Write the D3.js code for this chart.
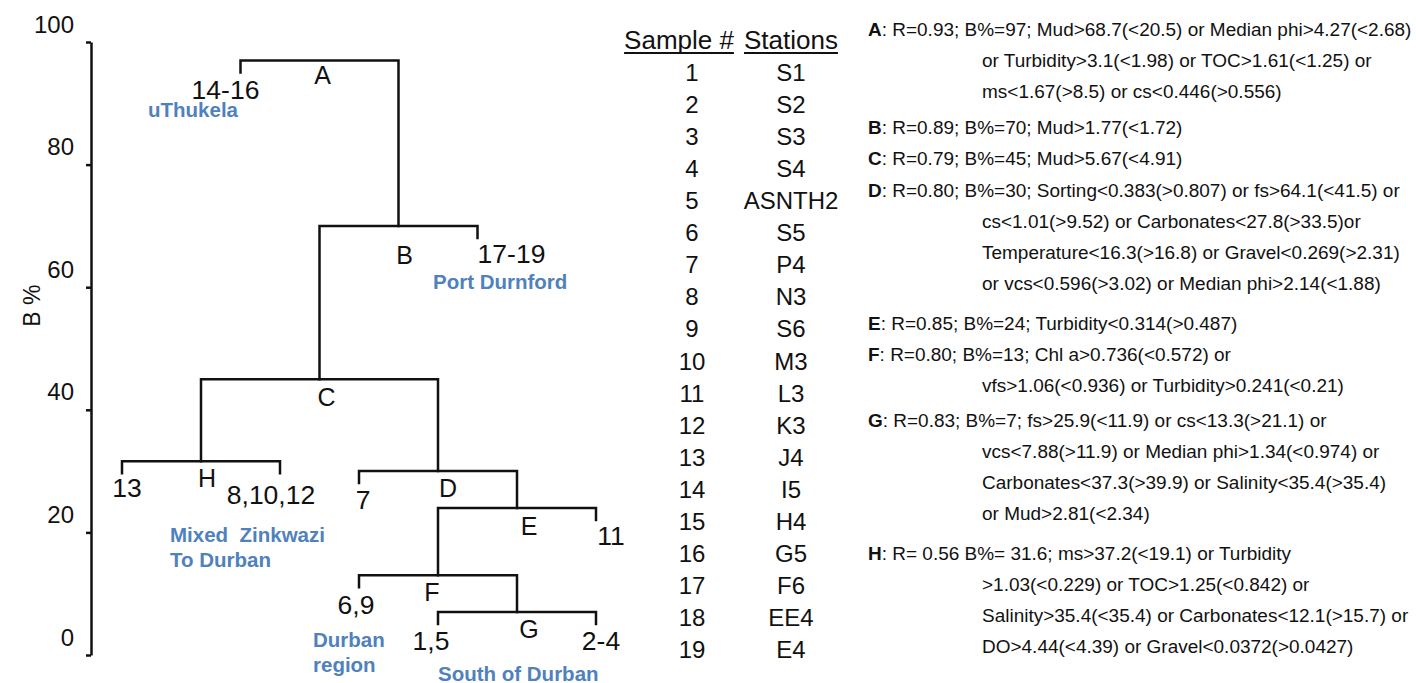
<!DOCTYPE html>
<html>
<head>
<meta charset="utf-8">
<script src="https://cdn.jsdelivr.net/npm/d3@7"></script>
<style>
  html, body { margin: 0; padding: 0; background: #fff; }
  svg { display: block; font-family: Arial, "Liberation Sans", sans-serif; }
  text { white-space: pre; }
</style>
</head>
<body>
<svg id="chart" width="1416" height="683"></svg>
<script>
// ---------------- data ----------------
// SIMPROF groups: name, join level (B %), and the two members each group joins
const groupNames = ["A", "B", "C", "D", "E", "F", "G", "H"];
const groupBPct  = [97, 70, 45, 30, 24, 13, 7, 31.6];
const groupLeft  = ["14-16", "C", "H", "7", "F", "6,9", "1,5", "13"];
const groupRight = ["B", "17-19", "D", "E", "11", "G", "2-4", "8,10,12"];

// sample ranges at the tips of the tree, left to right
const leafLabels = ["13", "8,10,12", "14-16", "7", "6,9", "1,5", "17-19", "11", "2-4"];

const yTicks = [0, 20, 40, 60, 80, 100];

const sampleNumbers = ["1","2","3","4","5","6","7","8","9","10","11","12","13","14","15","16","17","18","19"];
const stationNames  = ["S1","S2","S3","S4","ASNTH2","S5","P4","N3","S6","M3","L3","K3","J4","I5","H4","G5","F6","EE4","E4"];

const regionNames = ["uThukela", "Port Durnford", "Mixed  Zinkwazi\nTo Durban", "Durban\nregion", "South of Durban"];

// group descriptions: R, B% and discriminating variables
const noteGroups = ["A", "B", "C", "D", "E", "F", "G", "H"];
const noteLines = [
  ["R=0.93; B%=97; Mud>68.7(<20.5) or Median phi>4.27(<2.68)",
   "or Turbidity>3.1(<1.98) or TOC>1.61(<1.25) or",
   "ms<1.67(>8.5) or cs<0.446(>0.556)"],
  ["R=0.89; B%=70; Mud>1.77(<1.72)"],
  ["R=0.79; B%=45; Mud>5.67(<4.91)"],
  ["R=0.80; B%=30; Sorting<0.383(>0.807) or fs>64.1(<41.5) or",
   "cs<1.01(>9.52) or Carbonates<27.8(>33.5)or",
   "Temperature<16.3(>16.8) or Gravel<0.269(>2.31)",
   "or vcs<0.596(>3.02) or Median phi>2.14(<1.88)"],
  ["R=0.85; B%=24; Turbidity<0.314(>0.487)"],
  ["R=0.80; B%=13; Chl a>0.736(<0.572) or",
   "vfs>1.06(<0.936) or Turbidity>0.241(<0.21)"],
  ["R=0.83; B%=7; fs>25.9(<11.9) or cs<13.3(>21.1) or",
   "vcs<7.88(>11.9) or Median phi>1.34(<0.974) or",
   "Carbonates<37.3(>39.9) or Salinity<35.4(>35.4)",
   "or Mud>2.81(<2.34)"],
  ["R= 0.56 B%= 31.6; ms>37.2(<19.1) or Turbidity",
   ">1.03(<0.229) or TOC>1.25(<0.842) or",
   "Salinity>35.4(<35.4) or Carbonates<12.1(>15.7) or",
   "DO>4.44(<4.39) or Gravel<0.0372(>0.0427)"]
];

// ---------------- layout ----------------
const svg = d3.select("#chart");
const INK = "#111";
const BLUE = "#4f81bd";

// leaf column slots along the horizontal axis of the tree
const leafSlot = {"13": 0, "8,10,12": 4, "14-16": 3, "7": 6, "6,9": 6, "1,5": 8, "17-19": 9, "11": 12, "2-4": 12};
const x = d3.scaleLinear().domain([0, 12]).range([122, 596]);
const y = d3.scaleLinear().domain([0, 100]).range([655, 42]);
const stub = 12;

// label offsets (dx from the join / tip, dy below it)
const groupLabelOff = {A: [3, 24], B: [6, 38], C: [7, 27], D: [10, 26], E: [12, 27], F: [-6, 26], G: [12, 26], H: [6, 26]};
const leafLabelOff  = {"13": [5, 24], "8,10,12": [-9, 31], "14-16": [-15, 27], "7": [4, 26], "6,9": [-3, 27],
                       "1,5": [-7, 26], "17-19": [34, 25], "11": [15, 25], "2-4": [5, 26]};

const groupIndex = new Map(groupNames.map((n, i) => [n, i]));
const isGroup = n => groupIndex.has(n);
function xOf(n) {
  if (!isGroup(n)) return x(leafSlot[n]);
  const i = groupIndex.get(n);
  return (xOf(groupLeft[i]) + xOf(groupRight[i])) / 2;
}
function yOf(n) { return y(groupBPct[groupIndex.get(n)]); }

// ---------------- y axis ----------------
const axis = d3.axisLeft(y).tickValues(yTicks).tickSize(5).tickSizeOuter(0).tickPadding(12);
const gAxis = svg.append("g").attr("transform", "translate(91,0)").call(axis);
gAxis.select(".domain").attr("stroke", INK).attr("stroke-width", 2.5);
gAxis.selectAll(".tick line").attr("stroke", INK).attr("stroke-width", 2.5);
// tick numbers sit a little above their tick marks
gAxis.selectAll(".tick text").attr("fill", INK).attr("font-size", 24).attr("dy", -10)
  .attr("font-family", "Arial, 'Liberation Sans', sans-serif");

svg.append("text")
  .attr("transform", `translate(40,${y(57)}) rotate(-90)`)
  .attr("text-anchor", "middle").attr("font-size", 23).attr("fill", INK)
  .text("B %");

// ---------------- dendrogram ----------------
const gTree = svg.append("g").attr("fill", "none").attr("stroke", INK).attr("stroke-width", 2.5)
  .attr("stroke-linecap", "square");
groupNames.forEach((n, i) => {
  const yy = yOf(n);
  const kids = [groupLeft[i], groupRight[i]];
  const p = d3.path();
  const xl = xOf(kids[0]), xr = xOf(kids[1]);
  const yl = isGroup(kids[0]) ? yOf(kids[0]) : yy + stub;
  const yr = isGroup(kids[1]) ? yOf(kids[1]) : yy + stub;
  p.moveTo(xl, yl); p.lineTo(xl, yy); p.lineTo(xr, yy); p.lineTo(xr, yr);
  gTree.append("path").attr("d", p.toString()).attr("stroke-linejoin", "miter");
});

// group letters
const gLab = svg.append("g").attr("fill", INK).attr("text-anchor", "middle");
groupNames.forEach((n, i) => {
  const o = groupLabelOff[n];
  gLab.append("text").attr("x", xOf(n) + o[0]).attr("y", yOf(n) + o[1])
    .attr("font-size", 25).text(n);
});
// tip labels
groupNames.forEach((n, i) => {
  [groupLeft[i], groupRight[i]].filter(k => !isGroup(k)).forEach(k => {
    const o = leafLabelOff[k];
    gLab.append("text").attr("x", xOf(k) + o[0]).attr("y", yOf(n) + stub + o[1])
      .attr("font-size", 26.5).text(k);
  });
});

// region names (blue)
const regionPos = [[148, 117], [433, 289], [170, 542], [313, 647], [438, 681]];
const gReg = svg.append("g").attr("fill", BLUE).attr("font-weight", "bold").attr("font-size", 20.5);
regionNames.forEach((r, i) => {
  r.split("\n").forEach((line, j) => {
    gReg.append("text").attr("x", regionPos[i][0]).attr("y", regionPos[i][1] + j * 25).text(line);
  });
});

// ---------------- sample / station table ----------------
const rowY = d3.scalePoint().domain(sampleNumbers).range([81, 658]);
const gTab = svg.append("g").attr("fill", INK).attr("text-anchor", "middle");
const headers = [["Sample #", 679], ["Stations", 791]];
headers.forEach(([h, cx]) => {
  const t = gTab.append("text").attr("x", cx).attr("y", 49).attr("font-size", 26).text(h);
  const w = t.node().getComputedTextLength();
  gTab.append("line").attr("x1", cx - w / 2).attr("x2", cx + w / 2).attr("y1", 53).attr("y2", 53)
    .attr("stroke", INK).attr("stroke-width", 2);
});
sampleNumbers.forEach((s, i) => {
  gTab.append("text").attr("x", 692).attr("y", rowY(s)).attr("font-size", 24).text(s);
  gTab.append("text").attr("x", 791).attr("y", rowY(s)).attr("font-size", 24).text(stationNames[i]);
});

// ---------------- group notes ----------------
// the note text is set slightly wide (horizontal scale)
const noteScaleX = 1.085;
const gNote = svg.append("g").attr("fill", INK).attr("font-size", 17.5);
const lineStep = 31;
const paraGap = [0, 5, 0, 1, 9, 0, 4, 9];
let ny = 36;
noteGroups.forEach((g, i) => {
  ny += paraGap[i];
  noteLines[i].forEach((line, j) => {
    const x0 = j === 0 ? 868 : 982;
    const t = gNote.append("text").attr("transform", `translate(${x0},${ny}) scale(${noteScaleX},1)`);
    if (j === 0) {
      t.append("tspan").attr("font-weight", "bold").text(g);
      t.append("tspan").text(": " + line);
    } else {
      t.text(line);
    }
    ny += lineStep;
  });
});
</script>
</body>
</html>
